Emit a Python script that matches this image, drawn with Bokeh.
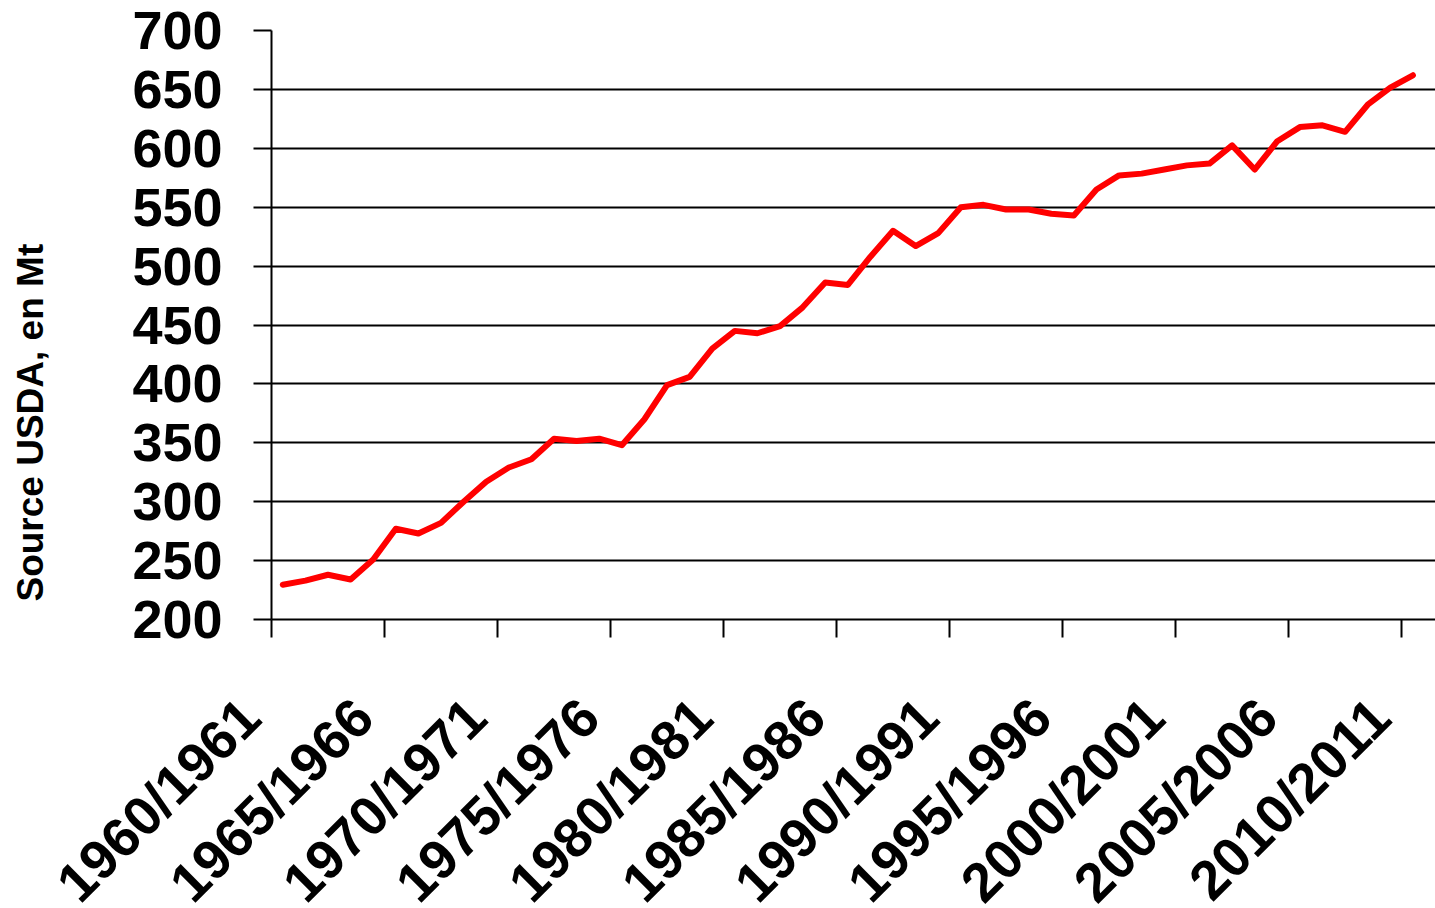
from math import pi
from bokeh.plotting import figure
from bokeh.models import FixedTicker, Range1d
from bokeh.embed import file_html
from bokeh.resources import INLINE

# ---- data -------------------------------------------------------------
categories = [f"{y}/{y + 1}" for y in range(1960, 2011)]
production_mt = [229.5, 233, 238, 234, 251, 277, 273, 282, 300, 317,
                 329, 336, 353.5, 351.5, 353.5, 348, 370, 399, 406, 430,
                 445, 443, 449, 465, 486, 484, 508, 530, 517, 528,
                 550, 552, 548, 548, 544.5, 543, 565, 577, 578.5, 582,
                 585.5, 587, 602.5, 582, 606, 618, 619.5, 614, 637, 651.5,
                 662]
label_step = 5
x_tick_labels = categories[::label_step]
y_ticks = [200, 250, 300, 350, 400, 450, 500, 550, 600, 650, 700]
y_title = "Source USDA, en Mt"

# ---- figure -----------------------------------------------------------
FONT = "Liberation Sans"
NBSP = "\u00a0"
xs = list(range(len(categories)))
label_pos = xs[::label_step]

p = figure(frame_width=1164, frame_height=589,
           x_range=Range1d(-0.5, 51.0), y_range=Range1d(y_ticks[0], y_ticks[-1]),
           output_backend="svg", toolbar_location=None, title=None,
           min_border_left=271, min_border_top=30, min_border_right=0,
           min_border_bottom=200)
p.outline_line_color = None
p.background_fill_color = "white"
p.border_fill_color = "white"

p.ygrid.grid_line_color = "black"
p.ygrid.grid_line_width = 2
p.xgrid.visible = False

p.line(xs, production_mt, line_color="#FF0000", line_width=6,
       line_join="round", line_cap="round")

# x axis: tick marks between categories (minor ticks), rotated labels under
# every 5th category (major ticks without marks); the trailing no-break
# spaces keep the visible text ending a little left of the category centre
p.xaxis.ticker = FixedTicker(ticks=label_pos,
                             minor_ticks=[i - 0.5 for i in label_pos])
p.xaxis.major_label_overrides = {i: lab + NBSP * 3
                                 for i, lab in zip(label_pos, x_tick_labels)}
p.xaxis.major_tick_out = 0
p.xaxis.major_tick_in = 0
p.xaxis.minor_tick_out = 18
p.xaxis.minor_tick_in = 0
p.xaxis.minor_tick_line_width = 2
p.xaxis.minor_tick_line_color = "black"
p.xaxis.axis_line_width = 2
p.xaxis.axis_line_color = "black"
p.xaxis.major_label_orientation = pi / 4
p.xaxis.major_label_standoff = 38
p.xaxis.major_label_text_font = FONT
p.xaxis.major_label_text_font_size = "55px"
p.xaxis.major_label_text_font_style = "bold"
p.xaxis.major_label_text_color = "black"

# y axis
p.yaxis.ticker = FixedTicker(ticks=y_ticks)
p.yaxis.major_tick_out = 18
p.yaxis.major_tick_in = 0
p.yaxis.minor_tick_line_color = None
p.yaxis.major_tick_line_width = 2
p.yaxis.major_tick_line_color = "black"
p.yaxis.axis_line_width = 2
p.yaxis.axis_line_color = "black"
p.yaxis.major_label_standoff = 31
p.yaxis.major_label_text_font = FONT
p.yaxis.major_label_text_font_size = "54px"
p.yaxis.major_label_text_font_style = "bold"
p.yaxis.major_label_text_color = "black"

# y title: sits lower than the plot centre in the original
p.yaxis.axis_label = y_title + NBSP * 19
p.yaxis.axis_label_standoff = 78
p.yaxis.axis_label_text_font = FONT
p.yaxis.axis_label_text_font_size = "37px"
p.yaxis.axis_label_text_font_style = "bold"
p.yaxis.axis_label_text_color = "black"

open("out.html", "w").write(file_html(p, INLINE))
